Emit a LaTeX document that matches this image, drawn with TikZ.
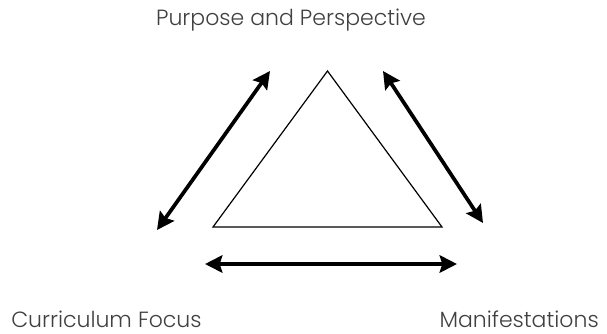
\documentclass[tikz,border=0pt]{standalone}
\usepackage{fontspec}
\setmainfont{Poppins}[UprightFont=* Light]
\usepackage{tikz}
\usetikzlibrary{arrows.meta, positioning}

\definecolor{labelgray}{RGB}{64,64,64}
\tikzset{
  twoway/.style={line width=2.8pt, {Stealth[length=13pt,width=13pt,inset=2pt]}-{Stealth[length=13pt,width=13pt,inset=2pt]}},
  label text/.style={inner sep=0.75pt, text=labelgray, font=\fontsize{16.5}{20}\selectfont},
}

\begin{document}
\begin{tikzpicture}[x=0.75pt,y=0.75pt,yscale=-1,xscale=1]
\useasboundingbox (0,0) rectangle (607,333);

%Shape: Triangle
\coordinate (apex) at (327.5,71);
\coordinate (baseL) at (213,227);
\coordinate (baseR) at (442,227);
\draw [line width=0.9pt, line join=miter] (apex) -- (baseL) -- (baseR) -- cycle ;

%Arrow ends
\coordinate (leftTop) at (270,71);
\coordinate (leftBot) at (157,230);
\coordinate (rightTop) at (383,71);
\coordinate (rightBot) at (483,223);
\coordinate (baseArrL) at (205,264);
\coordinate (baseArrR) at (457,264);

%Double Arrows
\draw [twoway] (leftBot) -- (leftTop) ;
\draw [twoway] (rightTop) -- (rightBot) ;
\draw [twoway] (baseArrL) -- (baseArrR) ;

% Text Node
\node (purpose) [label text, anchor=base] at (291,25) {Purpose and Perspective};
% Text Node
\node (focus) [label text, anchor=base west] at (10,327) {Curriculum Focus};
% Text Node
\node (manif) [label text, anchor=base east] at (600,327) {Manifestations};

\end{tikzpicture}
\end{document}
